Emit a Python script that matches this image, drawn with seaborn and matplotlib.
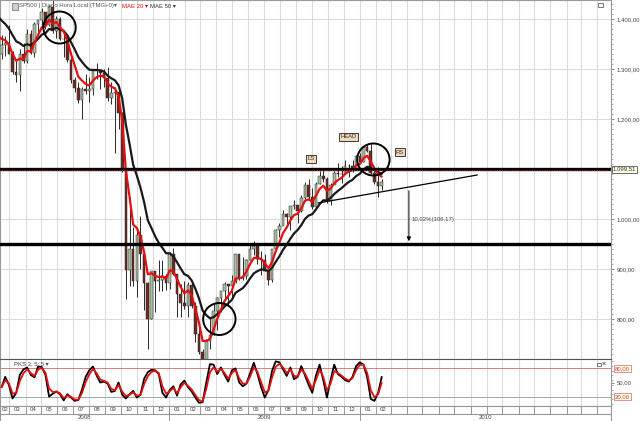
import numpy as np
import pandas as pd
import matplotlib
matplotlib.use("Agg")
import matplotlib.pyplot as plt
import matplotlib.dates as mdates
from matplotlib.patches import Ellipse, Rectangle
import seaborn as sns

# Weekly SP500 bars (Fridays). The first 15 weeks sit left of the view, they only warm up the averages.
week_start = "2007-11-02"
closes = [1509, 1453, 1458, 1440, 1481, 1504, 1467, 1484, 1478, 1411, 1401, 1325, 1331, 1395, 1331,
          1349, 1353, 1331, 1294, 1288, 1330, 1316, 1370, 1332, 1390, 1398, 1414, 1388, 1425, 1376, 1400,
          1361, 1360, 1318, 1278, 1262, 1239, 1261, 1257, 1260, 1296, 1298, 1292, 1283, 1242, 1252, 1255,
          1213, 1099, 899, 940, 877, 968, 930, 873, 800, 896, 876, 879, 887, 872, 931,
          890, 850, 832, 826, 869, 827, 770, 735, 683, 756, 768, 816, 843, 856, 870, 866,
          877, 930, 883, 887, 919, 940, 946, 921, 918, 896, 879, 940, 979, 987, 1010, 1005,
          1026, 1029, 1016, 1042, 1068, 1044, 1025, 1071, 1087, 1080, 1036, 1069, 1093, 1091, 1091,
          1106, 1106, 1102, 1127, 1115, 1145, 1136, 1092, 1074, 1066, 1075]
highs = [1553, 1520, 1475, 1465, 1488, 1504, 1523, 1485, 1496, 1471, 1415, 1420, 1355, 1396, 1396,
         1368, 1367, 1388, 1336, 1321, 1341, 1352, 1380, 1378, 1395, 1398, 1422, 1415, 1428, 1440, 1406,
         1404, 1372, 1370, 1335, 1285, 1275, 1265, 1290, 1285, 1300, 1313, 1300, 1300, 1304, 1275, 1265,
         1255, 1214, 1099, 1044, 985, 985, 1007, 935, 875, 897, 896, 919, 918, 890, 935,
         943, 890, 870, 877, 875, 876, 835, 780, 740, 760, 804, 832, 845, 857, 875, 871,
         888, 930, 930, 925, 920, 951, 956, 946, 936, 931, 898, 941, 980, 993, 1018, 1013,
         1027, 1039, 1029, 1048, 1074, 1080, 1063, 1074, 1096, 1101, 1085, 1072, 1097, 1113, 1107,
         1119, 1110, 1118, 1128, 1133, 1145, 1150, 1150, 1105, 1105, 1080]
lows = [1490, 1450, 1420, 1406, 1420, 1460, 1465, 1446, 1468, 1411, 1370, 1325, 1270, 1322, 1318,
        1320, 1327, 1330, 1290, 1274, 1257, 1312, 1312, 1331, 1324, 1375, 1385, 1380, 1386, 1373, 1362,
        1358, 1325, 1315, 1272, 1255, 1232, 1200, 1250, 1235, 1248, 1280, 1260, 1265, 1236, 1230, 1133,
        1180, 1095, 840, 866, 866, 845, 900, 818, 741, 800, 815, 857, 857, 858, 860,
        888, 805, 804, 820, 805, 823, 754, 731, 666, 672, 740, 768, 779, 814, 840, 826,
        840, 872, 878, 879, 881, 918, 928, 910, 888, 896, 869, 875, 937, 965, 988, 990,
        978, 1020, 992, 1015, 1040, 1041, 1020, 1025, 1070, 1075, 1033, 1029, 1070, 1085, 1073,
        1090, 1085, 1095, 1100, 1115, 1115, 1134, 1090, 1071, 1044, 1058]

# PKS 3;5;5 oscillator, one value per week from 2008-02-15
osc_values = [40, 62, 45, 16, 28, 66, 78, 82, 66, 61, 84, 83, 66, 20, 26, 31, 25, 12, 25, 18,
              11, 13, 35, 62, 76, 84, 65, 50, 52, 48, 30, 32, 50, 24, 16, 25, 32, 18, 24, 58,
              72, 77, 76, 68, 28, 18, 34, 42, 22, 46, 54, 40, 31, 18, 7, 8, 50, 89, 88, 68,
              82, 66, 52, 76, 80, 50, 42, 48, 70, 92, 68, 40, 18, 34, 75, 95, 93, 78, 64, 82,
              57, 62, 85, 65, 45, 28, 65, 88, 55, 18, 55, 88, 68, 62, 55, 52, 62, 85, 93, 88,
              62, 15, 11, 28, 62]

price_ticks = [800, 900, 1000, 1100, 1200, 1300, 1400]
month_labels = ["02", "03", "04", "05", "06", "07", "08", "09", "10", "11", "12",
                "01", "02", "03", "04", "05", "06", "07", "08", "09", "10", "11", "12",
                "01", "02"]
year_labels = ["2008", "2009", "2010"]
support_level = 1099.51
lower_level = 950


def es(v):
    # spanish number format 1.234,56
    return f"{v:,.2f}".replace(",", "X").replace(".", ",").replace("X", ".")


df = pd.DataFrame({"date": pd.date_range(week_start, periods=len(closes), freq="W-FRI"),
                   "close": closes, "high": highs, "low": lows})
df["open"] = df["close"].shift(1)
# weekly spans that roughly match the daily MAE 20 / MAE 50
df["mae20"] = df["close"].ewm(span=5, adjust=False).mean()
df["mae50"] = df["close"].ewm(span=12, adjust=False).mean()

osc = df.iloc[15:][["date"]].copy()
osc["k"] = osc_values
osc["d"] = osc["k"].ewm(span=2, adjust=False).mean()

sns.set_theme(style="white")
plt.rcParams["font.family"] = ["Liberation Sans", "DejaVu Sans"]

W, H = 640, 421
fig = plt.figure(figsize=(6.4, 4.21), dpi=100)
ax = fig.add_axes([0, 1 - 359 / H, 611 / W, 359 / H])
axo = fig.add_axes([0, 1 - 406 / H, 611 / W, 47 / H])
axd = fig.add_axes([0, 0, 611 / W, 15 / H])

x0, x1 = pd.Timestamp("2008-02-12"), pd.Timestamp("2011-04-27")
month_starts = pd.date_range("2008-03-01", "2011-04-01", freq="MS")
grid_c = "#dcdcdc"
fs = 4.3

# Main price panel
for a in (ax, axo):
    for m in month_starts:
        a.axvline(m, color=grid_c, lw=0.8, zorder=0)
for p in price_ticks:
    ax.axhline(p, color=grid_c, lw=0.8, zorder=0)

bars = df.dropna(subset=["open"])
up = bars["close"] >= bars["open"]
ax.vlines(bars["date"], bars["low"], bars["high"], colors="#2a2a2a", lw=0.7, zorder=2)
ax.bar(bars["date"], bars["close"] - bars["open"], bottom=bars["open"], width=5,
       color=np.where(up, "#a9bda0", "#6e2a22"), edgecolor="#2a2a2a", linewidth=0.35, zorder=3)

sns.lineplot(data=df, x="date", y="mae50", ax=ax, color="#1a1a1a", lw=1.6, zorder=4)
sns.lineplot(data=df, x="date", y="mae20", ax=ax, color="#e41010", lw=1.6, zorder=5)

ax.axhline(support_level, color="black", lw=2.4, zorder=6)
ax.axhline(support_level - 1.5, color="#e03030", lw=0.6, ls=(0, (1, 1)), zorder=7)
ax.axhline(lower_level, color="black", lw=2.4, zorder=6)

ax.set_xlim(x0, x1)
ax.set_ylim(720, 1438)
ax.set_xlabel("")
ax.set_ylabel("")
ax.set_xticks([])
ax.yaxis.tick_right()
ax.set_yticks(price_ticks)
# the 1.100,00 label sits under the support price box
ax.set_yticklabels(["" if p == 1100 else es(p) for p in price_ticks])
ax.set_yticks(np.arange(730, 1440, 10), minor=True)
ax.tick_params(axis="y", which="major", right=True, length=2.5, width=0.6, color="#777",
               labelsize=fs, labelcolor="#444", pad=1.5)
ax.tick_params(axis="y", which="minor", right=True, length=1.2, width=0.5, color="#888")
for s in ax.spines.values():
    s.set_color("#999")
    s.set_linewidth(0.8)


def dn(s):
    return mdates.date2num(pd.Timestamp(s))


# circles
for c, pr in [("2008-06-05", 1383), ("2009-04-07", 800), ("2010-01-27", 1119)]:
    ax.add_patch(Ellipse((dn(c), pr), width=62, height=64, fill=False, ec="black", lw=1.4, zorder=8))

box = dict(boxstyle="square,pad=0.2", fc="#f0d9bc", ec="#222", lw=0.6)
for t, d, pr in [("LS", "2009-09-30", 1120), ("HEAD", "2009-12-10", 1164), ("RS", "2010-03-19", 1134)]:
    ax.text(dn(d), pr, t, fontsize=4.2, color="#333", ha="center", va="center", bbox=box, zorder=9)

# neckline and target
ax.plot([pd.Timestamp("2009-10-13"), pd.Timestamp("2010-08-14")], [1032, 1088], color="black", lw=0.9, zorder=8)
ax.annotate("", xy=(pd.Timestamp("2010-04-05"), lower_level), xytext=(pd.Timestamp("2010-04-05"), 1062),
            arrowprops=dict(arrowstyle="-|>", lw=0.7, color="black", mutation_scale=6), zorder=8)
ax.text(pd.Timestamp("2010-04-10"), 1000, "10,02%(106,17)", fontsize=fs, color="#444", va="center")

ax.text(1.003, (support_level - 720) / (1438 - 720), es(support_level), transform=ax.transAxes,
        fontsize=fs, color="#333", va="center", ha="left",
        bbox=dict(boxstyle="square,pad=0.2", fc="#ffffe6", ec="#555", lw=0.6), clip_on=False)

# Oscillator panel
axo.axhline(80, color="#cc6a6a", lw=0.6, zorder=1)
axo.axhline(20, color="#9a9a9a", lw=0.6, zorder=1)
sns.lineplot(data=osc, x="date", y="k", ax=axo, color="black", lw=1.3, zorder=3)
sns.lineplot(data=osc, x="date", y="d", ax=axo, color="#e41010", lw=1.3, zorder=4)
axo.set_xlim(x0, x1)
axo.set_ylim(0, 100)
axo.set_xlabel("")
axo.set_ylabel("")
axo.set_xticks([])
axo.yaxis.tick_right()
axo.set_yticks([50])
axo.set_yticklabels(["50,00"])
axo.set_yticks(np.arange(5, 100, 10), minor=True)
axo.tick_params(axis="y", which="major", right=True, length=2.5, width=0.6, color="#777",
                labelsize=fs, labelcolor="#444", pad=1.5)
axo.tick_params(axis="y", which="minor", right=True, length=1.2, width=0.5, color="#888")
for s in axo.spines.values():
    s.set_color("#999")
    s.set_linewidth(0.8)
axo.spines["top"].set_color("#555")
for lv in (80, 20):
    axo.text(1.006, lv / 100, es(lv), transform=axo.transAxes, fontsize=fs, color="#d04040",
             va="center", ha="left", clip_on=False,
             bbox=dict(boxstyle="square,pad=0.15", fc="#ffffe6", ec="#e08080", lw=0.6))

# Date band
axd.set_xlim(x0, x1)
axd.set_ylim(0, 1)
axd.set_xticks([])
axd.set_yticks([])
for s in axd.spines.values():
    s.set_color("#999")
    s.set_linewidth(0.8)
mid = 0.47
axd.axhline(mid, color="#999", lw=0.8)
for m in month_starts:
    axd.plot([m, m], [mid, 1], color="#888", lw=0.6)
for y in ("2009-01-01", "2010-01-01"):
    axd.plot([pd.Timestamp(y)] * 2, [0, 1], color="#888", lw=0.6)
all_months = pd.date_range("2008-02-01", periods=len(month_labels) + 1, freq="MS")
for lab, a, b in zip(month_labels, all_months[:-1], all_months[1:]):
    a = max(a, x0)
    axd.text(a + (b - a) / 2, (mid + 1) / 2, lab, fontsize=fs, color="#444", ha="center", va="center")
ybounds = [x0, pd.Timestamp("2009-01-01"), pd.Timestamp("2010-01-01"), x1]
for lab, a, b in zip(year_labels, ybounds[:-1], ybounds[1:]):
    axd.text(a + (b - a) / 2, mid / 2 - 0.02, lab, fontsize=fs, color="#444", ha="center", va="center")

# header texts and window icons
fig.add_artist(Rectangle((12 / W, 1 - 9.5 / H), 6 / W, 6 / H, fc="#cfcfcf", ec="#666", lw=0.5))
fig.text(19 / W, 1 - 6 / H, "SP500 | Diario Hora Local (TMG+0)\u25be", fontsize=fs, color="#555", va="center")
fig.text(122 / W, 1 - 6 / H, "MAE 20 \u25be", fontsize=fs, color="#e41010", va="center")
fig.text(150 / W, 1 - 6 / H, "MAE 50 \u25be", fontsize=fs, color="#333", va="center")
fig.add_artist(Rectangle((598 / W, 1 - 7 / H), 5 / W, 4 / H, fc="white", ec="#444", lw=0.5))
fig.text(14 / W, 1 - 364 / H, "PKS 3; 5; 5 \u25be", fontsize=fs, color="#444", va="center")
fig.add_artist(Rectangle((597 / W, 1 - 366 / H), 4 / W, 3 / H, fc="white", ec="#444", lw=0.5))
fig.text(602 / W, 1 - 364 / H, "\u00d7", fontsize=5, color="#222", va="center")

fig.savefig("out.png", dpi=100)
